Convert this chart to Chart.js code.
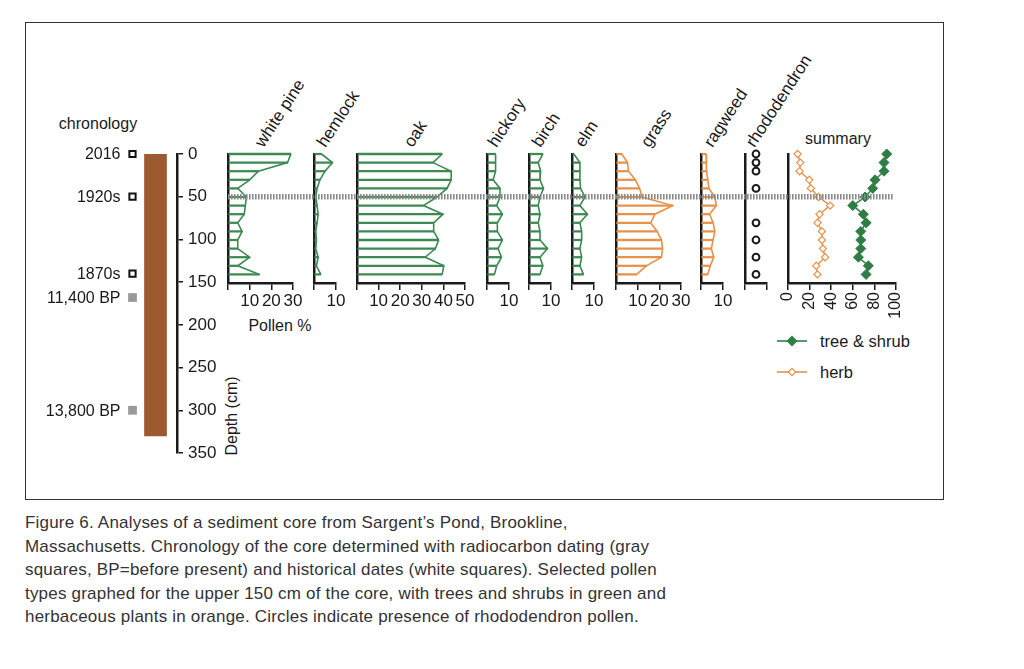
<!DOCTYPE html>
<html>
<head>
<meta charset="utf-8">
<script src="https://cdn.jsdelivr.net/npm/chart.js@4.4.1/dist/chart.umd.min.js"></script>
<style>
html, body { margin: 0; padding: 0; background: #fff; }
body { width: 1024px; height: 669px; position: relative; overflow: hidden;
  font-family: "Liberation Sans", Arial, Helvetica, sans-serif; color: #1a1a1a; }
canvas { position: absolute; }
.frame { position: absolute; left: 25px; top: 22px; width: 919px; height: 478px;
  border: 1.5px solid #333; box-sizing: border-box; }
.lbl { position: absolute; font-size: 16px; line-height: 1; white-space: nowrap; transform: translate(-50%, -50%); }
.title { position: absolute; font-size: 17px; line-height: 1; white-space: nowrap;
  transform-origin: 0 100%; transform: rotate(-57deg); }
.caption { position: absolute; left: 25px; top: 511px; font-size: 17px; letter-spacing: 0.2px;
  line-height: 23.5px; color: #333; white-space: nowrap; }
.legend { position: absolute; left: 776px; font-size: 16.5px; line-height: 1; white-space: nowrap; }
.legend svg { position: absolute; left: 0; top: -6px; }
.legend span { position: absolute; left: 44px; top: -8px; }
</style>
</head>
<body>
<div class="frame"></div>

<script>
// ---- data ----
const sampleDepths = [0, 10, 20, 30, 40, 50, 60, 70, 80, 90, 100, 110, 120, 130, 140];

const whitePine = [29, 27.5, 14, 10, 4.5, 8.5, 8, 7.5, 4.5, 6.5, 4.5, 4.5, 10, 4.5, 14.5];
const hemlock   = [3.4, 8.4, 5, 2.7, 1.4, 0.8, 1.4, 1.9, 1.4, 0.8, 1.1, 0.8, 1.9, 1.1, 3.1];
const oak       = [39.4, 35.2, 43.6, 43.6, 41.7, 37, 30.8, 39.8, 35.5, 35.5, 37.8, 36.3, 31.6, 40.2, 39.4];
const hickory   = [3.9, 3.9, 3.9, 2.8, 5.9, 5.9, 4.4, 7, 4.7, 4.7, 7, 5, 6.6, 4.4, 3.4];
const birch     = [6.3, 4.2, 5.3, 5, 6.6, 5, 4.2, 5, 4.2, 5, 5, 8.4, 5, 6.3, 5];
const elm       = [0.8, 3.6, 3.6, 3.6, 3.9, 5.9, 3.6, 7, 3.6, 4.4, 4.4, 3.6, 4.4, 3.6, 5.2];
const grass     = [2.7, 5.3, 5.8, 8.9, 10.9, 12, 26.1, 18, 16, 19, 21, 21.5, 21, 14, 9.5];
const ragweed   = [2.3, 2.3, 2.7, 3.1, 3.6, 6.3, 7, 3.9, 5.5, 6.3, 5.5, 4.7, 5.8, 4.2, 3.1];

const rhodoDepths = [0, 10, 20, 40, 80, 100, 120, 140];

const herbSum = [8.9, 11.4, 10.7, 19.7, 21.2, 28.3, 39, 29.2, 27.3, 31.4, 31.4, 32.3, 34.4, 26.1, 27.3];
const treeSum = [91.4, 88.9, 88.9, 80.6, 78.5, 71.4, 60, 69.8, 72.3, 67.4, 67.4, 67.4, 65.2, 74.4, 72.3];

const historicalDates  = ['2016', '1920s', '1870s'];
const historicalDepths = [0, 50, 140];
const radiocarbonDates  = ['11,400 BP', '13,800 BP'];
const radiocarbonDepths = [168, 300];
const coreLength = 330;
const horizonDepth = 50;
const depthTicks = [0, 350];

// ---- look ----
const GREEN = '#3c8a52', GREEN_DARK = '#2f7d45', ORANGE = '#e8914b', BROWN = '#9b5a2f', INK = '#1a1a1a';
const FONT = '"Liberation Sans", Arial, Helvetica, sans-serif';
Chart.defaults.font.family = FONT;
Chart.defaults.color = INK;

const TOP = 154, BOT = 283, PAD = 22;

function makeCanvas(left, top, width, height, z) {
  const c = document.createElement('canvas');
  c.width = width; c.height = height;
  c.style.cssText = `left:${left}px;top:${top}px;width:${width}px;height:${height}px;z-index:${z || 1};pointer-events:none`;
  document.body.appendChild(c);
  return c;
}

function addText(cls, text, x, y, extra) {
  const d = document.createElement('div');
  d.className = cls; d.textContent = text;
  d.style.left = x + 'px'; d.style.top = y + 'px';
  if (extra) Object.assign(d.style, extra);
  document.body.appendChild(d);
  return d;
}

function baseOpts() {
  return {
    responsive: false, animation: false, devicePixelRatio: 1,
    plugins: { legend: { display: false }, tooltip: { enabled: false } }
  };
}

function depthAxis() {
  return {
    type: 'linear', min: 0, max: 150, reverse: true, offset: false,
    afterFit: s => { s.width = 0; },
    ticks: { display: false },
    grid: { display: false, drawTicks: false, offset: false },
    border: { display: true, color: INK, width: 2.5 }
  };
}

function pollenPanel(values, x0, x1, max, color) {
  const axisH = 40;
  const canvas = makeCanvas(x0 - PAD, TOP - PAD, x1 - x0 + 2 * PAD, PAD + (BOT - TOP) + axisH);
  const pts = sampleDepths.map((d, i) => ({ x: values[i], y: d }));
  new Chart(canvas, {
    type: 'bar',
    data: {
      datasets: [
        { type: 'line', indexAxis: 'y', data: pts, borderColor: color, borderWidth: 1.6,
          pointRadius: 0, fill: false, tension: 0, order: 0, clip: false },
        { type: 'bar', indexAxis: 'y', data: pts, backgroundColor: color, barThickness: 1.6, order: 1, clip: false }
      ]
    },
    options: Object.assign(baseOpts(), {
      indexAxis: 'y',
      layout: { padding: { left: PAD, right: PAD, top: PAD, bottom: 0 } },
      scales: {
        x: { type: 'linear', min: 0, max: max, position: 'bottom', offset: false,
             afterFit: s => { s.height = axisH; },
             ticks: { stepSize: 10, autoSkip: false, maxRotation: 0, padding: 1,
                      font: { size: 17 }, callback: v => (v === 0 ? '' : v) },
             grid: { drawOnChartArea: false, tickLength: 7, color: INK, lineWidth: 1.5 },
             border: { display: true, color: INK, width: 2.5 } },
        y: depthAxis()
      }
    })
  });
}

// ---- pollen panels ----
pollenPanel(whitePine, 228, 293, 30, GREEN);
pollenPanel(hemlock,   314, 336, 10, GREEN);
pollenPanel(oak,       357, 465, 50, GREEN);
pollenPanel(hickory,   487, 509, 10, GREEN);
pollenPanel(birch,     529, 551, 10, GREEN);
pollenPanel(elm,       572, 594, 10, GREEN);
pollenPanel(grass,     616, 681, 30, ORANGE);
pollenPanel(ragweed,   701, 723, 10, ORANGE);

// ---- rhododendron presence ----
(function () {
  const x0 = 745, x1 = 767, axisH = 40;
  const canvas = makeCanvas(x0 - PAD, TOP - PAD, x1 - x0 + 2 * PAD, PAD + (BOT - TOP) + axisH);
  new Chart(canvas, {
    type: 'line',
    data: {
      labels: ['present'],
      datasets: [{ data: rhodoDepths.map(d => ({ x: 'present', y: d })), showLine: false, clip: false,
        pointStyle: 'circle', pointRadius: 3.4, pointBorderWidth: 2,
        pointBorderColor: INK, pointBackgroundColor: '#fff' }]
    },
    options: Object.assign(baseOpts(), {
      layout: { padding: { left: PAD, right: PAD, top: PAD, bottom: 0 } },
      scales: {
        x: { type: 'category', offset: true, position: 'bottom',
             afterFit: s => { s.height = axisH; },
             ticks: { callback: () => '' },
             grid: { offset: true, drawOnChartArea: false, tickLength: 7, color: INK, lineWidth: 1.5 },
             border: { display: true, color: INK, width: 2.5 } },
        y: depthAxis()
      }
    })
  });
})();

// ---- summary ----
(function () {
  const x0 = 788, x1 = 896, axisH = 45;
  const canvas = makeCanvas(x0 - PAD, TOP - PAD, x1 - x0 + 2 * PAD, PAD + (BOT - TOP) + axisH);
  new Chart(canvas, {
    type: 'line',
    data: {
      datasets: [
        { label: 'herb', indexAxis: 'y', data: sampleDepths.map((d, i) => ({ x: herbSum[i], y: d })),
          borderColor: ORANGE, borderWidth: 1.5, pointStyle: 'rectRot', pointRadius: 3.6, clip: false,
          pointBorderWidth: 1.2, pointBorderColor: ORANGE, pointBackgroundColor: '#fff' },
        { label: 'tree & shrub', indexAxis: 'y', data: sampleDepths.map((d, i) => ({ x: treeSum[i], y: d })),
          borderColor: GREEN_DARK, borderWidth: 1.5, pointStyle: 'rectRot', pointRadius: 5, clip: false,
          pointBorderWidth: 1, pointBorderColor: GREEN_DARK, pointBackgroundColor: GREEN_DARK }
      ]
    },
    options: Object.assign(baseOpts(), {
      indexAxis: 'y',
      layout: { padding: { left: PAD, right: PAD, top: PAD, bottom: 0 } },
      scales: {
        x: { type: 'linear', min: 0, max: 100, position: 'bottom',
             afterFit: s => { s.height = axisH; },
             ticks: { stepSize: 20, autoSkip: false, minRotation: 90, maxRotation: 90, padding: 2,
                      font: { size: 16 } },
             grid: { drawOnChartArea: false, tickLength: 7, color: INK, lineWidth: 1.5 },
             border: { display: true, color: INK, width: 2.5 } },
        y: depthAxis()
      }
    })
  });
})();

// ---- chronology: core and dates ----
const dateLabelPlugin = {
  id: 'dateLabels',
  afterDatasetsDraw(chart) {
    const ctx = chart.ctx;
    ctx.save();
    ctx.font = '16px ' + FONT;
    ctx.fillStyle = INK;
    ctx.textAlign = 'right';
    ctx.textBaseline = 'middle';
    chart.data.datasets.forEach((ds, di) => {
      if (!ds.dateLabels) return;
      chart.getDatasetMeta(di).data.forEach((pt, i) => ctx.fillText(ds.dateLabels[i], pt.x - 12, pt.y + 1));
    });
    ctx.restore();
  }
};

(function () {
  const left = 121, right = 167, padL = 96, padR = 10, padT = 20, padB = 20;
  const canvas = makeCanvas(left - padL, TOP - padT, (right - left) + padL + padR, padT + 299 + padB);
  new Chart(canvas, {
    type: 'bar',
    data: {
      labels: ['dates', 'core'],
      datasets: [
        { type: 'bar', data: [{ x: 'core', y: [0, coreLength] }], backgroundColor: BROWN, barThickness: 22, order: 2 },
        { type: 'line', showLine: false, clip: false, data: historicalDepths.map(d => ({ x: 'dates', y: d })),
          dateLabels: historicalDates, pointStyle: 'rect', pointRadius: 4.4, pointBorderWidth: 2,
          pointBorderColor: '#111', pointBackgroundColor: '#fff', order: 1 },
        { type: 'line', showLine: false, clip: false, data: radiocarbonDepths.map(d => ({ x: 'dates', y: d })),
          dateLabels: radiocarbonDates, pointStyle: 'rect', pointRadius: 6.2, pointBorderWidth: 0,
          pointBackgroundColor: '#9a9a9a', order: 1 }
      ]
    },
    options: Object.assign(baseOpts(), {
      layout: { padding: { left: padL, right: padR, top: padT, bottom: padB } },
      scales: {
        x: { type: 'category', display: false, offset: true },
        y: { type: 'linear', display: false, min: depthTicks[0], max: depthTicks[1], reverse: true }
      }
    }),
    plugins: [dateLabelPlugin]
  });
})();

// ---- depth axis and 1920s horizon ----
const HORIZON_X0 = 228, HORIZON_X1 = 893;
const horizonPlugin = {
  id: 'horizon',
  afterDraw(chart) {
    const ctx = chart.ctx;
    const off = parseFloat(chart.canvas.style.left);
    const y = chart.scales.y.getPixelForValue(horizonDepth);
    ctx.save();
    ctx.strokeStyle = '#8a8a8a';
    ctx.lineWidth = 5.5;
    ctx.setLineDash([1.6, 1.4]);
    ctx.beginPath();
    ctx.moveTo(HORIZON_X0 - off, y);
    ctx.lineTo(HORIZON_X1 - off, y);
    ctx.stroke();
    ctx.restore();
  }
};

(function () {
  const left = 127, right = 177, axisW = 730, padT = 20, padB = 20;
  const canvas = makeCanvas(left, TOP - padT, (right - left) + axisW, padT + 299 + padB, 5);
  new Chart(canvas, {
    type: 'line',
    data: { datasets: [] },
    options: Object.assign(baseOpts(), {
      layout: { padding: { left: 0, right: 0, top: padT, bottom: padB } },
      scales: {
        x: { display: false },
        y: { type: 'linear', position: 'right', min: depthTicks[0], max: depthTicks[1], reverse: true,
             afterFit: s => { s.width = axisW; },
             ticks: { stepSize: 50, padding: 5, font: { size: 17 } },
             grid: { drawOnChartArea: false, tickLength: 6, color: INK, lineWidth: 1.5 },
             border: { display: true, color: INK, width: 2.5 } }
      }
    }),
    plugins: [horizonPlugin]
  });
})();

// ---- text ----
addText('lbl', 'chronology', 98, 124);
addText('lbl', 'summary', 838, 139);
addText('lbl', 'Pollen %', 280, 326);
addText('lbl', 'Depth (cm)', 232, 416, { transform: 'translate(-50%, -50%) rotate(-90deg)' });

const panelNames = ['white pine', 'hemlock', 'oak', 'hickory', 'birch', 'elm', 'grass', 'ragweed', 'rhododendron'];
const titleX = [266, 328, 415, 499, 543, 586, 652, 715, 757];
panelNames.forEach((n, i) => addText('title', n, titleX[i], 150 - 17));

// legend
[['tree & shrub', GREEN_DARK, GREEN_DARK, 4.6, 341], ['herb', ORANGE, '#fff', 3.6, 372]].forEach(([name, c, fill, r, y]) => {
  const d = document.createElement('div');
  d.className = 'legend';
  d.style.top = y + 'px';
  d.innerHTML = `<svg width="32" height="12"><line x1="1" y1="6" x2="31" y2="6" stroke="${c}" stroke-width="1.6"/>` +
    `<polygon points="16,${6 - r} ${16 + r},6 16,${6 + r} ${16 - r},6" fill="${fill}" stroke="${c}" stroke-width="1.2"/></svg>` +
    `<span>${name.replace('&', '&amp;')}</span>`;
  document.body.appendChild(d);
});

// caption
const cap = document.createElement('div');
cap.className = 'caption';
cap.innerHTML = 'Figure 6. Analyses of a sediment core from Sargent’s Pond, Brookline,<br>' +
  'Massachusetts. Chronology of the core determined with radiocarbon dating (gray<br>' +
  'squares, BP=before present) and historical dates (white squares). Selected pollen<br>' +
  'types graphed for the upper 150 cm of the core, with trees and shrubs in green and<br>' +
  'herbaceous plants in orange. Circles indicate presence of rhododendron pollen.';
document.body.appendChild(cap);
</script>
</body>
</html>
